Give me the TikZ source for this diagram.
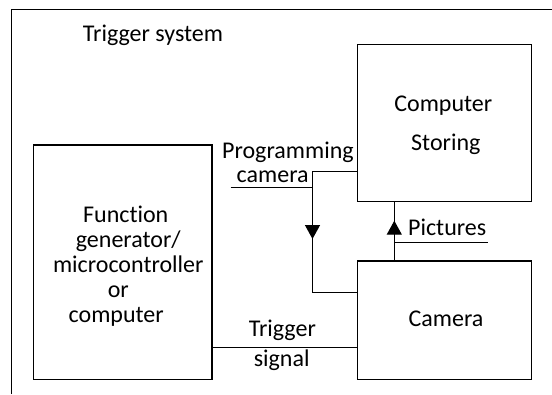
\documentclass[tikz,border=0pt]{standalone}
\usepackage{fontspec}
\setmainfont{Carlito}[Ligatures=NoCommon]
\usetikzlibrary{arrows.meta}
\begin{document}
\begin{tikzpicture}[x=1pt,y=-1pt,
  line width=1.3pt,
  box/.style={draw,line width=1.3pt,inner sep=0pt,outer sep=0pt},
  txt/.style={inner sep=0pt,outer sep=0pt,anchor=base,font=\fontsize{24}{25}\selectfont},
  tip/.style={-{Triangle[length=14pt,width=15pt]}}]
\useasboundingbox (0,0) rectangle (552,394);
% outer frame (cut by the page)
\coordinate (fa) at (11.7,394);
\coordinate (fb) at (11.7,9.3);
\coordinate (fc) at (552,9.3);
\draw (fa) -- (fb) -- (fc);
\node[txt] (title) at (153,41.7) {Trigger system};
% boxes
\node[box,minimum width=178.3pt,minimum height=234.3pt] (func) at (122.85,262.15) {};
\node[box,minimum width=173.6pt,minimum height=157.4pt] (comp) at (444.5,123) {};
\node[box,minimum width=173.6pt,minimum height=118.3pt] (cam) at (444.5,320.15) {};
% box texts
\node[txt] (func1) at (125.8,222.3) {Function};
\node[txt] (func2) at (128.3,247.5) {generator/};
\node[txt] (func3) at (128.3,272.3) {microcontroller};
\node[txt] (func4) at (118.3,297) {or};
\node[txt] (func5) at (116.2,322.3) {computer};
\node[txt] (comptext1) at (443.3,111) {Computer};
\node[txt] (comptext2) at (445.8,150) {Storing};
\node[txt] (camtext) at (446,326.7) {Camera};
% programming camera connector
\coordinate (p1) at (312.5,171.7);
\coordinate (pa) at (312.5,239);
\coordinate (p2) at (312.5,292.7);
\coordinate (pu) at (230.6,187.3);
\draw (comp.west |- p1) -- (p1) -- (p2) -- (cam.west |- p2);
\draw[tip] (p1) -- (pa);
\draw (pu) -- (p1 |- pu);
\node[txt] (proglbl1) at (287.9,158.5) {Programming};
\node[txt] (proglbl2) at (272.7,182) {camera};
% pictures connector
\coordinate (q) at (394.3,230);
\coordinate (qa) at (394.3,220.7);
\coordinate (qu) at (488.3,242.7);
\draw (cam.north -| q) -- (comp.south -| q);
\draw[tip] (cam.north -| q) -- (qa);
\draw (q |- qu) -- (qu);
\node[txt] (piclbl) at (447.2,235) {Pictures};
% trigger signal connector
\draw (func.east |- 0,347.3) -- (cam.west |- 0,347.3);
\node[txt] (trglbl1) at (282.4,336.7) {Trigger};
\node[txt] (trglbl2) at (281.7,366) {signal};
\end{tikzpicture}
\end{document}
